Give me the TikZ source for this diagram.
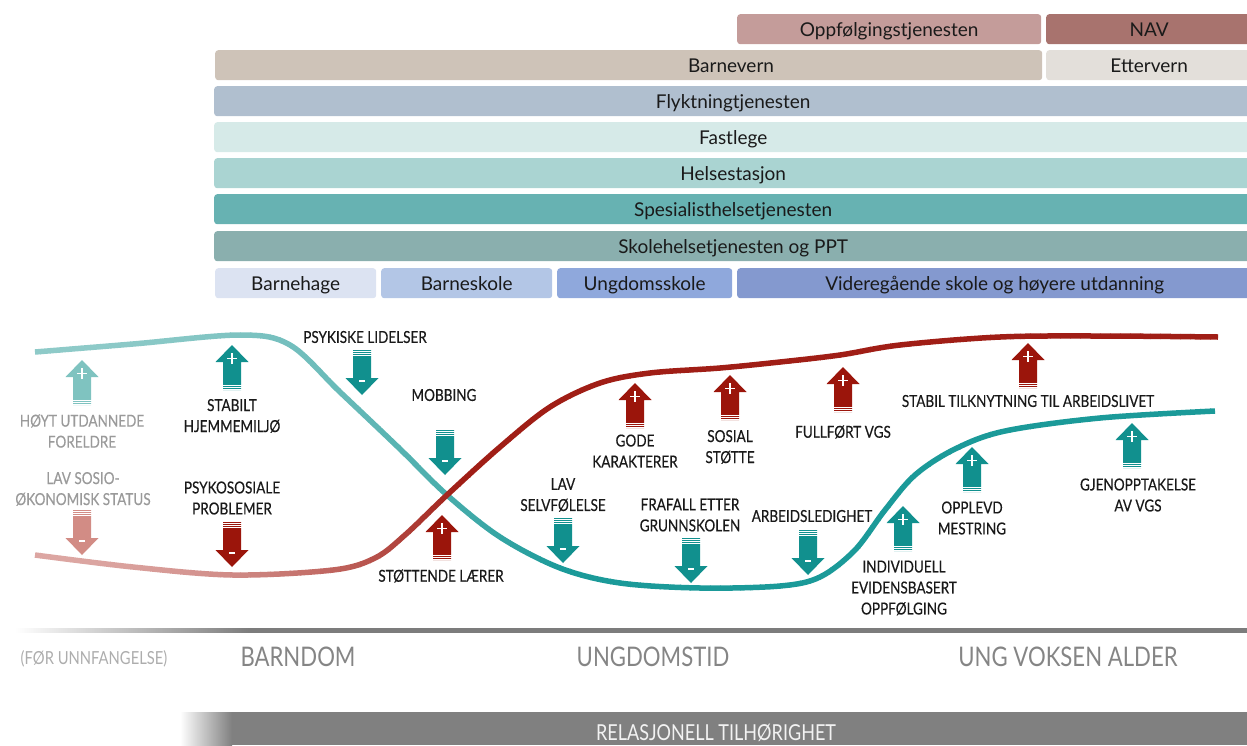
\documentclass[tikz,border=0pt]{standalone}
\usepackage{fontspec}
\setmainfont{Lato}
\newfontfamily\cond[FakeStretch=0.82,FakeBold=0.35]{Lato}
\newfontfamily\condlight[FakeStretch=0.82]{Lato}
\definecolor{cOpp}{HTML}{C49C9A}
\definecolor{cNav}{HTML}{A8736E}
\definecolor{cBarn}{HTML}{CEC3B8}
\definecolor{cEtt}{HTML}{E3DFDA}
\definecolor{cFly}{HTML}{B0BFCF}
\definecolor{cFast}{HTML}{D6EAE8}
\definecolor{cHelse}{HTML}{AAD4D2}
\definecolor{cSpes}{HTML}{67B2B2}
\definecolor{cSkole}{HTML}{8AAFAE}
\definecolor{cBhage}{HTML}{DCE3F2}
\definecolor{cBskole}{HTML}{B3C6E6}
\definecolor{cUskole}{HTML}{8FA8DC}
\definecolor{cVgs}{HTML}{8499CF}
\definecolor{barText}{HTML}{1A1A1A}
\definecolor{tealL}{HTML}{8ECAC8}
\definecolor{tealD}{HTML}{1B9A99}
\definecolor{redL}{HTML}{DCA6A2}
\definecolor{redD}{HTML}{A01E16}
\definecolor{aTealL}{HTML}{7FC3C0}
\definecolor{aTeal}{HTML}{11908E}
\definecolor{aRedL}{HTML}{D28C85}
\definecolor{aRed}{HTML}{9B150B}
\definecolor{lblGrey}{HTML}{9A9A9A}
\definecolor{perGrey}{HTML}{858585}
\definecolor{lineG}{HTML}{7C7C7C}
\definecolor{barG}{HTML}{808080}
\tikzset{
  bar/.style={anchor=north west, rounded corners=3pt, minimum height=30pt, inner sep=0pt,
    text height=15pt, text depth=1pt, text=barText, font=\fontsize{19}{22}\selectfont},
  bartext/.style={inner sep=0pt, text height=15pt, text depth=1pt, text=barText, font=\fontsize{19}{22}\selectfont},
  lbl/.style={align=center, inner sep=0pt, text=black!90, font=\cond\fontsize{16.5}{21}\selectfont},
  glbl/.style={lbl, text=lblGrey},
  period/.style={inner sep=0pt, text=perGrey, font=\condlight\fontsize{27}{30}\selectfont},
  uparr/.pic={
    \fill[pic actions] (0,0) -- (16.5,17) -- (9,17) -- (9,45) -- (-9,45) -- (-9,17) -- (-16.5,17) -- cycle;
    \foreach \yy in {40,42,44} \draw[white,line width=0.7pt] (-9.5,\yy) -- (9.5,\yy);
    \draw[white,line width=1.6pt] (-5,13.5) -- (5,13.5) (0,8) -- (0,19);
  },
  dnarr/.pic={
    \fill[pic actions] (0,0) -- (16.5,-17) -- (9,-17) -- (9,-45) -- (-9,-45) -- (-9,-17) -- (-16.5,-17) -- cycle;
    \foreach \yy in {40,42,44} \draw[white,line width=0.7pt] (-9.5,-\yy) -- (9.5,-\yy);
    \draw[white,line width=1.6pt] (-3,-14) -- (3,-14);
  }
}
\def\tealcurve{plot[smooth,tension=0.55] coordinates {(35,352) (133,344) (240,335) (290,345) (340,392) (400,449) (447,495) (500,537) (560,568) (620,583) (700,588) (780,586) (820,577) (855,550) (885,510) (915,475) (955,449) (1005,431) (1100,418) (1215,411)}}
\def\redcurve{plot[smooth,tension=0.55] coordinates {(35,555) (133,567) (233,575) (333,570) (375,558) (405,535) (447,495) (500,447) (550,407) (600,383) (650,373) (720,368) (780,362) (840,355) (900,345) (1000,337) (1100,336) (1218,337)}}
\begin{document}
\begin{tikzpicture}[x=1pt,y=-1pt]
\useasboundingbox (0,0) rectangle (1247,745);
\clip (0,0) rectangle (1247,745);

% service bars
\node[bar, fill=cOpp, minimum width=304pt] (opp) at (737,14) {};
\node[bartext] (opptxt) at (opp.center) {Oppfølgingstjenesten};
\node[bar, fill=cNav, minimum width=206pt] (nav) at (1046,14) {NAV};
\node[bar, fill=cBarn, minimum width=827pt] (barnevern) at (215,50) {};
\node[bartext] (barnetxt) at (731,65) {Barnevern};
\node[bar, fill=cEtt, minimum width=206pt] (ettervern) at (1046,50) {Ettervern};
\node[bar, fill=cFly, minimum width=1038pt] (flykt) at (214,86) {Flyktningtjenesten};
\node[bar, fill=cFast, minimum width=1038pt] (fastlege) at (214,122) {Fastlege};
\node[bar, fill=cHelse, minimum width=1038pt] (helse) at (214,158) {Helsestasjon};
\node[bar, fill=cSpes, minimum width=1038pt] (spes) at (214,194) {Spesialisthelsetjenesten};
\node[bar, fill=cSkole, minimum width=1038pt] (skole) at (214,231) {Skolehelsetjenesten og PPT};
\node[bar, fill=cBhage, minimum width=161pt] (bhage) at (215,268) {Barnehage};
\node[bar, fill=cBskole, minimum width=171pt] (bskole) at (381,268) {Barneskole};
\node[bar, fill=cUskole, minimum width=175pt] (uskole) at (557,268) {Ungdomsskole};
\node[bar, fill=cVgs, minimum width=515pt] (vgs) at (737,268) {Videregående skole og høyere utdanning};

% gradient curves
\foreach \i in {0,...,120} {
  \pgfmathsetmacro\xa{30+10*\i}
  \pgfmathtruncatemacro\ft{100*(min(1,max(0,(\xa-35)/520)))^2}
  \pgfmathtruncatemacro\fr{100*(min(1,max(0,(\xa-35)/420)))^2}
  \begin{scope}
    \clip (\xa,300) rectangle ++(10.6,320);
    \draw[line width=5.5pt, color=tealD!\ft!tealL] \tealcurve;
    \draw[line width=5.5pt, color=redD!\fr!redL] \redcurve;
  \end{scope}
}

% arrows
\pic[fill=aTealL] at (82,360) {uparr};
\pic[fill=aTeal] at (232,345) {uparr};
\pic[fill=aRed] at (442,515) {uparr};
\pic[fill=aRed] at (635,383) {uparr};
\pic[fill=aRed] at (730,375) {uparr};
\pic[fill=aRed] at (843,367) {uparr};
\pic[fill=aRed] at (1028,343) {uparr};
\pic[fill=aTeal] at (903,506) {uparr};
\pic[fill=aTeal] at (972,447) {uparr};
\pic[fill=aTeal] at (1132,423) {uparr};
\pic[fill=aRedL] at (82,555) {dnarr};
\pic[fill=aRed] at (232,567) {dnarr};
\pic[fill=aTeal] at (362,395) {dnarr};
\pic[fill=aTeal] at (445,475) {dnarr};
\pic[fill=aTeal] at (563,563) {dnarr};
\pic[fill=aTeal] at (691,583) {dnarr};
\pic[fill=aTeal] at (808,575) {dnarr};

% labels
\node[glbl] (hoyt) at (82,431) {HØYT UTDANNEDE\\FORELDRE};
\node[glbl] (lavsos) at (83,489) {LAV SOSIO-\\ØKONOMISK STATUS};
\node[lbl] (stabilt) at (232,416) {STABILT\\HJEMMEMILJØ};
\node[lbl] (psykos) at (232,498) {PSYKOSOSIALE\\PROBLEMER};
\node[lbl] (psykisk) at (365,337) {PSYKISKE LIDELSER};
\node[lbl] (mobb) at (444,395) {MOBBING};
\node[lbl] (stott) at (441,576) {STØTTENDE LÆRER};
\node[lbl] (gode) at (635,451) {GODE\\KARAKTERER};
\node[lbl] (sosial) at (730,447) {SOSIAL\\STØTTE};
\node[lbl] (lavself) at (563,495) {LAV\\SELVFØLELSE};
\node[lbl] (frafall) at (690,515) {FRAFALL ETTER\\GRUNNSKOLEN};
\node[lbl] (arb) at (812,516) {ARBEIDSLEDIGHET};
\node[lbl] (fullf) at (843,432) {FULLFØRT VGS};
\node[lbl] (stabtil) at (1028,401) {STABIL TILKNYTNING TIL ARBEIDSLIVET};
\node[lbl] (indiv) at (904,588) {INDIVIDUELL\\EVIDENSBASERT\\OPPFØLGING};
\node[lbl] (opplevd) at (972,518) {OPPLEVD\\MESTRING};
\node[lbl] (gjen) at (1138,495) {GJENOPPTAKELSE\\AV VGS};

% time axis
\shade[left color=white, right color=lineG] (15,628) rectangle (250,632.5);
\fill[lineG] (250,628) rectangle (1247,632.5);
\node[period, text=black!32, font=\condlight\fontsize{18}{20}\selectfont] (foer) at (94,659) {(FØR UNNFANGELSE)};
\node[period] (barndom) at (298,657) {BARNDOM};
\node[period] (ungdom) at (653,657) {UNGDOMSTID};
\node[period] (ungvoks) at (1068,657) {UNG VOKSEN ALDER};

% bottom bar
\shade[left color=white, right color=barG] (180,712) rectangle (232,745);
\fill[barG] (232,712) rectangle (1247,745);
\node[inner sep=0pt, text=white!95!black, font=\condlight\fontsize{22}{24}\selectfont] (rel) at (716,733) {RELASJONELL TILHØRIGHET};
\end{tikzpicture}
\end{document}
